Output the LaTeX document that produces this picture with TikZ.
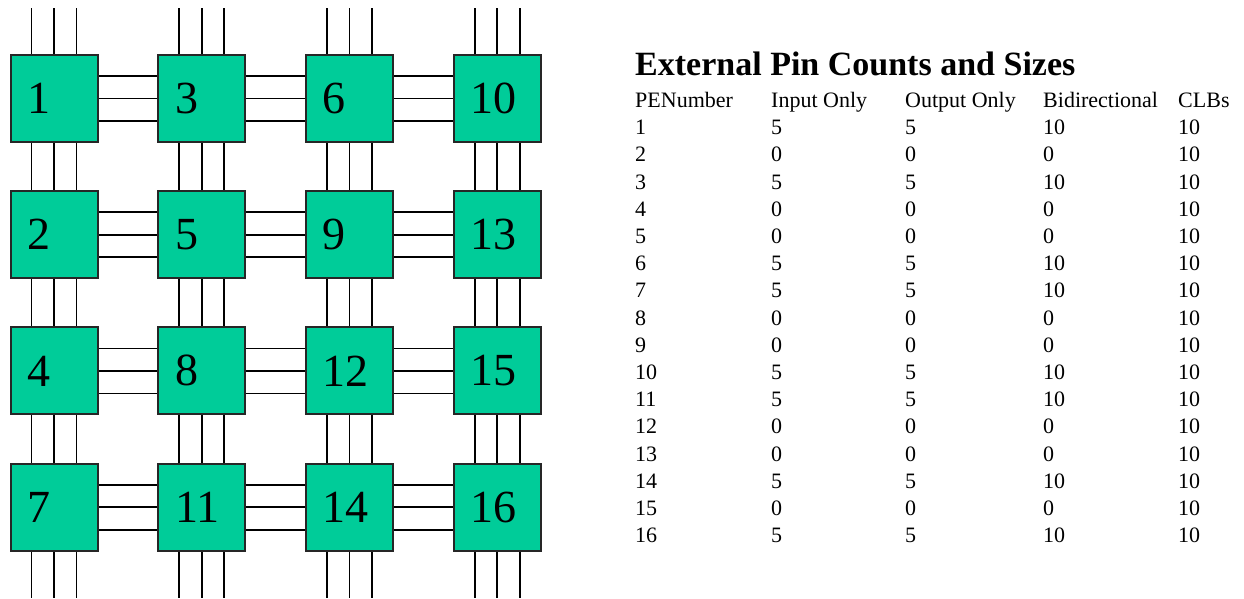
\documentclass[tikz,border=0pt]{standalone}
\usepackage{fontspec}
\setmainfont{Liberation Serif}
\usetikzlibrary{calc,backgrounds}
\definecolor{pegreen}{RGB}{0,204,153}

\tikzset{
  pebox/.style={draw=black!85, fill=pegreen, line width=2pt, inner xsep=17pt,
    inner ysep=0pt, text width=53pt, minimum height=87pt, align=left,
    font=\fontsize{46}{50}\selectfont},
  wire/.style={draw=black, line width=1.8pt},
  cell/.style={anchor=base west, inner sep=0pt, font=\fontsize{22}{26}\selectfont},
  heading/.style={anchor=base west, inner sep=0pt, font=\bfseries\fontsize{34}{38}\selectfont}
}

\begin{document}
\begin{tikzpicture}[x=1pt,y=-1pt]
\useasboundingbox (0,0) rectangle (1244,598);

% processing elements on a 4x4 mesh, numbered along anti-diagonals
\foreach \lab [count=\i from 0] in {1,3,6,10,2,5,9,13,4,8,12,15,7,11,14,16} {
  \pgfmathtruncatemacro{\col}{mod(\i,4)}
  \pgfmathtruncatemacro{\row}{div(\i,4)}
  \node[pebox] (pe\lab) at ({54+147.7*\col},{98.5+136.2*\row}) {\lab};
}

\coordinate (topedge) at (0,8);
\coordinate (botedge) at (0,598);

% three-wire links, drawn behind the boxes
\begin{scope}[on background layer]
\foreach \a/\b in {1/3,3/6,6/10,2/5,5/9,9/13,4/8,8/12,12/15,7/11,11/14,14/16}
  \foreach \d in {-22.5,0,22.5}
    \draw[wire] ([yshift=\d pt]pe\a.east) -- ([yshift=\d pt]pe\b.west);
\foreach \a/\b in {1/2,2/4,4/7,3/5,5/8,8/11,6/9,9/12,12/14,10/13,13/15,15/16}
  \foreach \d in {-22.5,0,22.5}
    \draw[wire] ([xshift=\d pt]pe\a.south) -- ([xshift=\d pt]pe\b.north);
% external pins leaving the top and bottom rows
\foreach \a in {1,3,6,10}
  \foreach \d in {-22.5,0,22.5}
    \draw[wire] ([xshift=\d pt]pe\a.north) -- ($(pe\a.north |- topedge)+(\d,0)$);
\foreach \a in {7,11,14,16}
  \foreach \d in {-22.5,0,22.5}
    \draw[wire] ([xshift=\d pt]pe\a.south) -- ($(pe\a.south |- botedge)+(\d,0)$);
\end{scope}

% pin count table
\node[heading] (title) at (635,75) {External Pin Counts and Sizes};
\node[cell] (h1) at (635,107.5) {PENumber};
\node[cell] (h2) at (771,107.5) {Input Only};
\node[cell] (h3) at (905,107.5) {Output Only};
\node[cell] (h4) at (1043,107.5) {Bidirectional};
\node[cell] (h5) at (1178,107.5) {CLBs};
\foreach \pe/\inp/\outp/\bid/\clb [count=\r from 0] in {
  1/5/5/10/10, 2/0/0/0/10, 3/5/5/10/10, 4/0/0/0/10,
  5/0/0/0/10, 6/5/5/10/10, 7/5/5/10/10, 8/0/0/0/10,
  9/0/0/0/10, 10/5/5/10/10, 11/5/5/10/10, 12/0/0/0/10,
  13/0/0/0/10, 14/5/5/10/10, 15/0/0/0/10, 16/5/5/10/10} {
  \node[cell] (r\pe a) at (635,{134.7+27.2*\r}) {\pe};
  \node[cell] (r\pe b) at (771,{134.7+27.2*\r}) {\inp};
  \node[cell] (r\pe c) at (905,{134.7+27.2*\r}) {\outp};
  \node[cell] (r\pe d) at (1043,{134.7+27.2*\r}) {\bid};
  \node[cell] (r\pe e) at (1178,{134.7+27.2*\r}) {\clb};
}
\end{tikzpicture}
\end{document}
